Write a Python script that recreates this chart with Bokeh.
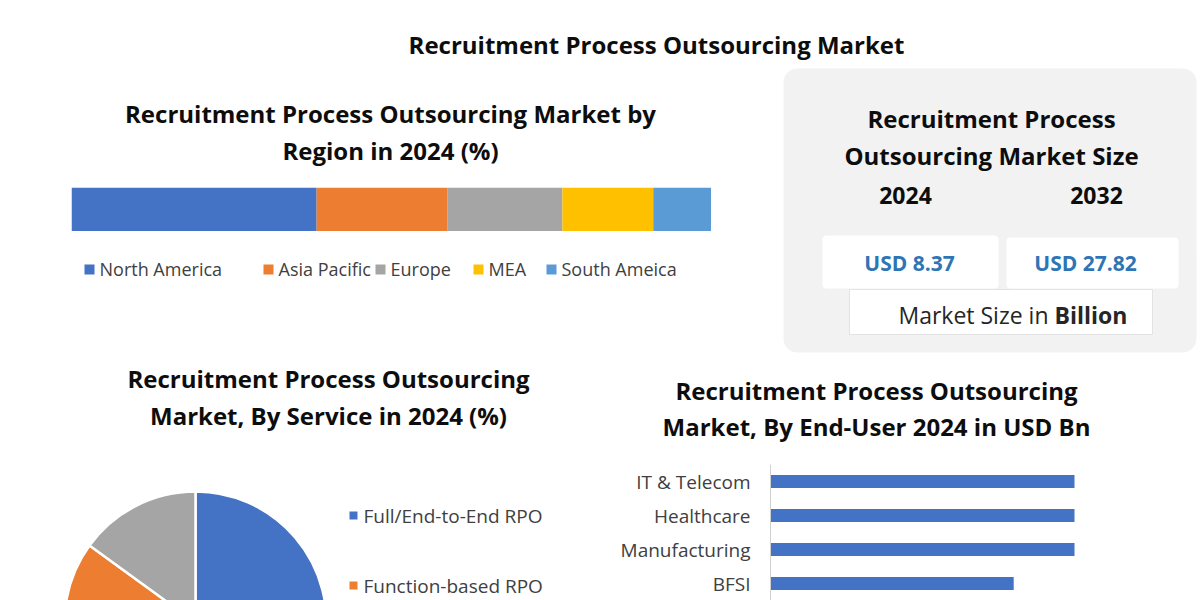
import math
import numpy as np
from bokeh.plotting import figure
from bokeh.layouts import row, column
from bokeh.models import Range1d, FactorRange, ColumnDataSource, Span
from bokeh.transform import cumsum
from bokeh.core.properties import value
from bokeh.embed import file_html
from bokeh.resources import INLINE

# ---------------- data ----------------
main_title = "Recruitment Process Outsourcing Market"

region_title = ["Recruitment Process Outsourcing Market by", "Region in 2024 (%)"]
regions = ["North America", "Asia Pacific", "Europe", "MEA", "South Ameica"]
region_share = [38.3, 20.4, 18.0, 14.2, 9.1]
region_colors = ["#4472C4", "#ED7D31", "#A5A5A5", "#FFC000", "#5B9BD5"]

size_title = ["Recruitment Process", "Outsourcing Market Size"]
size_years = ["2024", "2032"]
size_values = [8.37, 27.82]
size_unit = ["Market Size in", "Billion"]

service_title = ["Recruitment Process Outsourcing", "Market, By Service in 2024 (%)"]
services = ["Full/End-to-End RPO", "Function-based RPO", "Project-based RPO"]
service_share = [55.0, 30.0, 15.0]
service_colors = ["#4472C4", "#ED7D31", "#A5A5A5"]

enduser_title = ["Recruitment Process Outsourcing", "Market, By End-User 2024 in USD Bn"]
end_users = ["IT & Telecom", "Healthcare", "Manufacturing", "BFSI"]
end_user_value = [1.5, 1.5, 1.5, 1.2]

# ---------------- style ----------------
FONT = "Open Sans"
TITLE_SIZE = "24px"
LABEL_SIZE = "19px"
BLACK = "#0D0D0D"
GREY_TXT = "#404040"
W, H = 1200, 600


def canvas(x0, x1, y0, y1):
    """Blank figure whose data coordinates equal page pixels (y downwards)."""
    p = figure(width=x1 - x0, height=y1 - y0,
               x_range=Range1d(x0, x1), y_range=Range1d(y1, y0),
               x_axis_location=None, y_axis_location=None,
               output_backend="svg", toolbar_location=None, min_border=0)
    p.grid.visible = False
    p.outline_line_color = None
    p.border_fill_color = "white"
    p.background_fill_color = "white"
    return p


def label(p, x, y, txt, size=LABEL_SIZE, bold=False, color=BLACK, align="center", **kw):
    p.text(x=x, y=y, text=txt, text_font=value(FONT), text_font_size=size,
           text_font_style="bold" if bold else "normal", text_color=color,
           text_align=align, text_baseline="middle", **kw)


# ---------------- main title ----------------
T = canvas(0, W, 0, 60)
label(T, [656], [44], [main_title], size=TITLE_SIZE, bold=True)

# ---------------- region (stacked bar) ----------------
A1 = canvas(0, 770, 60, 187)
label(A1, [390, 390], [113, 150], region_title, size=TITLE_SIZE, bold=True)

reg_src = ColumnDataSource(dict(region=regions, share=region_share, color=region_colors))
Abar = figure(width=640, height=44, x_range=Range1d(0, sum(region_share)), y_range=Range1d(0, 1),
              x_axis_location=None, y_axis_location=None,
              output_backend="svg", toolbar_location=None, min_border=0)
Abar.grid.visible = False
Abar.outline_line_color = None
Abar.hbar(y=0.5, height=1, left=cumsum("share", include_zero=True), right=cumsum("share"),
          fill_color="color", line_color=None, source=reg_src)
Asp1 = canvas(0, 71, 187, 231)
Asp2 = canvas(711, 770, 187, 231)

A3 = canvas(0, 770, 231, 356)
leg_x = [89, 268, 380, 478, 551]
A3.rect(x=leg_x, y=[269] * len(regions), width=10, height=10,
        width_units="screen", height_units="screen", fill_color=region_colors, line_color=None)
label(A3, [x + 10 for x in leg_x], [268] * len(regions), regions, size="18px",
      color=GREY_TXT, align="left")

colA = column(A1, row(Asp1, Abar, Asp2), A3)

# ---------------- market size card ----------------
B = canvas(770, W, 60, 356)
B.quad(left=783, right=1196, top=68, bottom=352, border_radius=14,
       fill_color="#F2F2F2", line_color=None)
B.quad(left=[822, 1006], right=[998, 1178], top=[235, 237], bottom=[288, 288], border_radius=4,
       fill_color="white", line_color=None)
B.quad(left=849, right=1152, top=289, bottom=334, fill_color="white", line_color="#E3E3E3", line_width=1)
label(B, [991, 991], [118, 155], size_title, size=TITLE_SIZE, bold=True)
label(B, [905, 1096], [195, 195], size_years, size="23px", bold=True)
label(B, [909, 1085], [262, 262], ["USD %.2f" % v for v in size_values], size="21px", bold=True, color="#2E75B6")
label(B, [1048], [314], [size_unit[0]], size="23px", color="#262626", align="right")
label(B, [1054], [314], [size_unit[1]], size="23px", bold=True, color="#262626", align="left")

# ---------------- service (pie) ----------------
C = canvas(0, 588, 356, H)
label(C, [328, 328], [378, 415], service_title, size=TITLE_SIZE, bold=True)
share = np.array(service_share)
ang = share / share.sum() * 2 * math.pi
cum = np.concatenate([[0], np.cumsum(ang)])
pie_src = ColumnDataSource(dict(service=services, start=math.pi / 2 - cum[:-1],
                                end=math.pi / 2 - cum[1:], color=service_colors))
C.wedge(x=195, y=622, radius=131, radius_units="screen", start_angle="start", end_angle="end",
        direction="clock", fill_color="color", line_color="white", line_width=2.5, source=pie_src)
# legend: only the entries that fall inside the page are drawn
leg_y = [515 + 70 * i for i in range(len(services))]
vis = [i for i, yy in enumerate(leg_y) if yy + 14 < H]
C.rect(x=[353] * len(vis), y=[leg_y[i] for i in vis], width=8, height=8, width_units="screen",
       height_units="screen", fill_color=[service_colors[i] for i in vis], line_color=None)
label(C, [363] * len(vis), [leg_y[i] for i in vis], [services[i] for i in vis],
      color=GREY_TXT, align="left")

# ---------------- end-user (horizontal bars) ----------------
D1 = canvas(588, W, 356, 464)
label(D1, [876, 876], [390, 426], enduser_title, size=TITLE_SIZE, bold=True)

# value axis: zero sits 182 px right of the panel edge, 1.5 units span 304 px
px_per_unit = 304 / 1.5
D2 = figure(width=W - 588, height=H - 464, y_range=FactorRange(factors=end_users[::-1]),
            x_range=Range1d(-182 / px_per_unit, (W - 770) / px_per_unit),
            x_axis_location=None, y_axis_location=None,
            output_backend="svg", toolbar_location=None, min_border=0)
D2.grid.visible = False
D2.outline_line_color = None
D2.hbar(y=end_users, right=end_user_value, height=0.38, fill_color="#4472C4", line_color=None)
D2.add_layout(Span(location=0, dimension="height", line_color="#D0D0D0", line_width=1))
label(D2, [0] * len(end_users), end_users, end_users, color=GREY_TXT, align="right", x_offset=-20)

layout = column(T, row(colA, B), row(C, column(D1, D2)))

open("out.html", "w").write(file_html(layout, INLINE))
